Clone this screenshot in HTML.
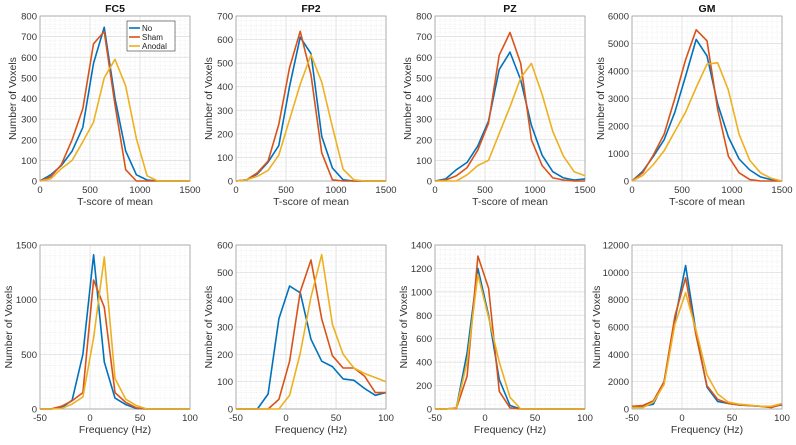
<!DOCTYPE html>
<html><head><meta charset="utf-8"><style>
body{margin:0;background:#fff;width:796px;height:440px;overflow:hidden}
svg{font-family:"Liberation Sans",sans-serif}
</style></head><body>
<svg id="c" width="796" height="440"></svg>
<script>
const tX=[0,107,214,321,428,535,642,750,857,964,1071,1178,1285,1392,1500];
const fX=[-50,-39.3,-28.6,-17.9,-7.1,3.6,14.3,25,35.7,46.4,57.1,67.9,78.6,89.3,100];
const seriesNames=["No","Sham","Anodal"];
const fc5T_No=[0,30,75,145,260,570,745,400,145,30,5,0,0,0,0];
const fc5T_Sham=[0,20,80,200,350,665,725,370,55,0,0,0,0,0,0];
const fc5T_Anodal=[0,10,60,100,190,285,500,590,460,205,25,0,0,0,0];
const fp2T_No=[0,5,30,80,150,400,610,540,190,55,5,0,0,0,0];
const fp2T_Sham=[0,5,35,85,240,480,635,450,120,5,0,0,0,0,0];
const fp2T_Anodal=[0,5,20,45,110,260,410,535,420,230,50,5,0,0,0];
const pzT_No=[0,10,55,90,170,290,540,625,490,270,125,45,15,5,10];
const pzT_Sham=[0,5,25,65,150,280,610,720,570,200,75,15,5,0,0];
const pzT_Anodal=[0,0,0,30,75,100,230,360,500,570,420,240,120,45,25];
const gmT_No=[0,350,900,1500,2500,3800,5150,4550,2800,1600,800,400,150,50,0];
const gmT_Sham=[0,300,950,1700,3000,4400,5500,5100,2600,900,300,50,0,0,0];
const gmT_Anodal=[0,200,600,1100,1800,2500,3400,4250,4300,3300,1700,750,300,100,0];
const fc5F_No=[0,0,10,80,500,1410,430,100,40,5,0,0,0,0,0];
const fc5F_Sham=[0,0,25,75,150,1180,930,150,60,10,0,0,0,0,0];
const fc5F_Anodal=[0,0,5,45,110,650,1390,280,90,30,0,0,0,0,0];
const fp2F_No=[0,0,0,55,330,450,425,255,175,155,110,105,75,50,60];
const fp2F_Sham=[0,0,0,0,35,175,430,545,330,195,150,150,120,60,60];
const fp2F_Anodal=[0,0,0,0,0,50,205,410,565,310,200,150,130,115,100];
const pzF_No=[0,0,10,480,1200,800,250,30,0,0,0,0,0,0,0];
const pzF_Sham=[0,0,5,280,1305,1030,150,10,0,0,0,0,0,0,0];
const pzF_Anodal=[0,0,10,400,1150,780,400,100,0,0,0,0,0,0,0];
const gmF_No=[150,200,350,2000,6500,10500,5500,1600,550,400,300,250,200,150,300];
const gmF_Sham=[200,250,600,2000,6800,9600,5300,1700,700,400,300,250,200,100,350];
const gmF_Anodal=[100,100,500,1800,6200,8500,5700,2500,1100,500,350,280,200,200,400];
const tTicks=[0,500,1000,1500];
const fTicks=[-50,0,50,100];
const colors=["#0072bd","#d95319","#edb120"];
const NS="http://www.w3.org/2000/svg";
const svg=document.getElementById('c');
function el(t,a,p){const e=document.createElementNS(NS,t);for(const k in a)e.setAttribute(k,a[k]);(p||svg).appendChild(e);return e;}
const panels=[
 {name:"fc5-top",title:"FC5",x:40,y:16,xs:tX,xmin:0,xmax:1500,xt:tTicks,ymax:800,ystep:100,xl:"T-score of mean",d:[fc5T_No,fc5T_Sham,fc5T_Anodal],legend:true},
 {name:"fp2-top",title:"FP2",x:236,y:16,xs:tX,xmin:0,xmax:1500,xt:tTicks,ymax:700,ystep:100,xl:"T-score of mean",d:[fp2T_No,fp2T_Sham,fp2T_Anodal]},
 {name:"pz-top",title:"PZ",x:435,y:16,xs:tX,xmin:0,xmax:1500,xt:tTicks,ymax:800,ystep:100,xl:"T-score of mean",d:[pzT_No,pzT_Sham,pzT_Anodal]},
 {name:"gm-top",title:"GM",x:632,y:16,xs:tX,xmin:0,xmax:1500,xt:tTicks,ymax:6000,ystep:1000,xl:"T-score of mean",d:[gmT_No,gmT_Sham,gmT_Anodal]},
 {name:"fc5-bottom",x:40,y:245,xs:fX,xmin:-50,xmax:100,xt:fTicks,ymax:1500,ystep:500,xl:"Frequency (Hz)",d:[fc5F_No,fc5F_Sham,fc5F_Anodal]},
 {name:"fp2-bottom",x:236,y:245,xs:fX,xmin:-50,xmax:100,xt:fTicks,ymax:600,ystep:100,xl:"Frequency (Hz)",d:[fp2F_No,fp2F_Sham,fp2F_Anodal]},
 {name:"pz-bottom",x:435,y:245,xs:fX,xmin:-50,xmax:100,xt:fTicks,ymax:1400,ystep:200,xl:"Frequency (Hz)",d:[pzF_No,pzF_Sham,pzF_Anodal]},
 {name:"gm-bottom",x:632,y:245,xs:fX,xmin:-50,xmax:100,xt:fTicks,ymax:12000,ystep:2000,xl:"Frequency (Hz)",d:[gmF_No,gmF_Sham,gmF_Anodal]}
];
panels.forEach(p=>{
 const W=150,H=p.y<100?165:164;
 const g=el('g',{});
 
 
 const sx=v=>p.x+(v-p.xmin)/(p.xmax-p.xmin)*W;
 const sy=v=>p.y+H-v/p.ymax*H;
 const xr=p.xmax-p.xmin, xmin=xr/30, ymin=p.ystep/5;
 for(let v=p.xmin;v<=p.xmax+1e-6;v+=xmin){const X=sx(v);el('line',{x1:X,x2:X,y1:p.y,y2:p.y+H,stroke:'#e4e4e4','stroke-width':0.6,'stroke-dasharray':'1,1.5'},g);}
 for(let v=0;v<=p.ymax+1e-6;v+=ymin){const Y=sy(v);el('line',{x1:p.x,x2:p.x+W,y1:Y,y2:Y,stroke:'#e4e4e4','stroke-width':0.6,'stroke-dasharray':'1,1.5'},g);}
 p.xt.forEach(v=>{const X=sx(v);el('line',{x1:X,x2:X,y1:p.y,y2:p.y+H,stroke:'#dcdcdc','stroke-width':0.7},g);
   const t=el('text',{x:X,y:p.y+H+12,'text-anchor':'middle','font-size':9.5,fill:'#333'},g);t.textContent=v;});
 for(let v=0;v<=p.ymax+1e-6;v+=p.ystep){const Y=sy(v);el('line',{x1:p.x,x2:p.x+W,y1:Y,y2:Y,stroke:'#dcdcdc','stroke-width':0.7},g);
   const t=el('text',{x:p.x-3,y:Y+3.5,'text-anchor':'end','font-size':9.5,fill:'#333'},g);t.textContent=v;}
 el('rect',{x:p.x,y:p.y,width:W,height:H,fill:'none',stroke:'#a0a0a0','stroke-width':0.8},g);
 p.d.forEach((arr,i)=>{
   const pts=arr.map((v,j)=>sx(p.xs[j]).toFixed(1)+','+sy(v).toFixed(1)).join(' ');
   const pl=el('polyline',{points:pts,fill:'none',stroke:colors[i],'stroke-width':1.6,'stroke-linejoin':'round'},g);
   
   
 });
 if(p.title){const t=el('text',{x:p.x+W/2,y:p.y-4,'text-anchor':'middle','font-size':10.5,'font-weight':'bold',fill:'#111'},g);t.textContent=p.title;
   }
 const xl=el('text',{x:p.x+W/2,y:p.y+H+24,'text-anchor':'middle','font-size':10.5,fill:'#333'},g);xl.textContent=p.xl;
 
 const cy=p.y+H/2,cx=p.x-(p.ymax>=10000?32:p.ymax>=1000?28:24);
 const yl=el('text',{x:cx,y:cy,'text-anchor':'middle','font-size':10.5,fill:'#333',transform:'rotate(-90 '+cx+' '+cy+')'},g);yl.textContent='Number of Voxels';
 
 if(p.legend){
   const lg=el('g',{},g);
   
   el('rect',{x:127,y:21,width:48,height:30,fill:'#fff',stroke:'#333','stroke-width':0.6},lg);
   seriesNames.forEach((n,i)=>{const Y=28+i*9;
     el('line',{x1:129,x2:140,y1:Y,y2:Y,stroke:colors[i],'stroke-width':1.6},lg);
     const t=el('text',{x:142,y:Y+3,'font-size':8,fill:'#222'},lg);t.textContent=n;
     });
 }
});
</script>
</body></html>
